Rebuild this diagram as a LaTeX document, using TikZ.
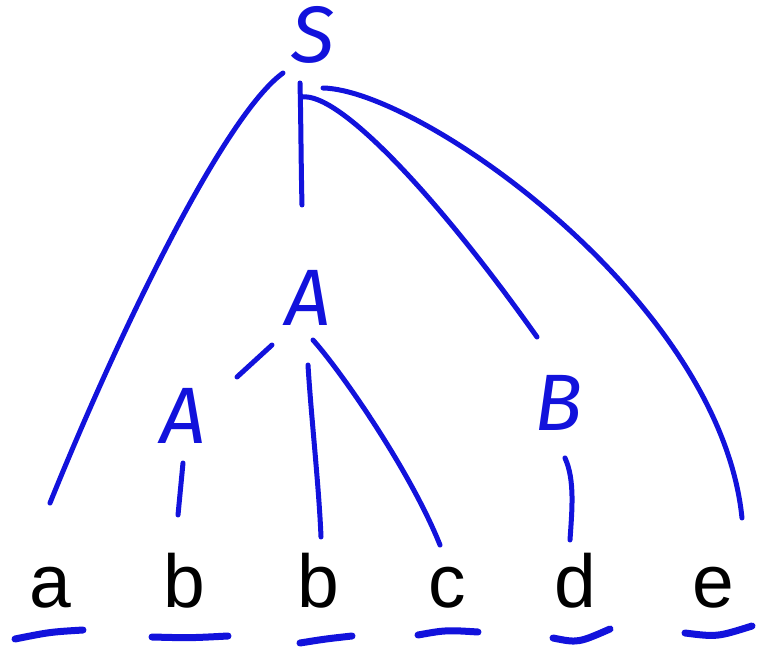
\documentclass[tikz,border=0pt]{standalone}
\usepackage{fontspec}
\setmainfont{Liberation Sans}
\newfontfamily\penfont{Fira Sans}
\usepackage{tikz}
\definecolor{penblue}{RGB}{18,18,220}

\tikzset{
  sym/.style={inner sep=0pt, text=penblue, font=\penfont\itshape\fontsize{80}{80}\selectfont},
  leaf/.style={inner sep=0pt, anchor=base, font=\fontsize{75}{75}\selectfont},
  pen/.style={draw=penblue, line width=5pt, line cap=round},
  underline/.style={draw=penblue, line width=7pt, line cap=round}
}

\begin{document}
\begin{tikzpicture}[x=1pt, y=-1pt]
\useasboundingbox (0,0) rectangle (769,647);

% Symbols of the tree
\node[sym] (S) at (313,35) {S};
\node[sym] (A1) at (308,298) {A};
\node[sym] (A2) at (183,416) {A};
\node[sym] (B) at (559,403) {B};

% Leaves
\node[leaf] (la) at (50,607) {a};
\node[leaf] (lb1) at (184,607) {b};
\node[leaf] (lb2) at (318,607) {b};
\node[leaf] (lc) at (447,607) {c};
\node[leaf] (ld) at (575,607) {d};
\node[leaf] (le) at (713,607) {e};

% Branches from S
\draw[pen] ([shift={(-30,38)}]S.center) .. controls +(-58,42) and +(72,-178) .. ([shift={(0,-104)}]la.base);
\draw[pen] ([shift={(-13,48)}]S.center) .. controls +(1,40) and +(-1,-40) .. ([shift={(-6,-93)}]A1.center);
\draw[pen] ([shift={(-11,62)}]S.center) .. controls +(38,-5) and +(-97,-137) .. ([shift={(-22,-66)}]B.center);
\draw[pen] ([shift={(10,53)}]S.center) .. controls +(97,2) and +(-22,-218) .. ([shift={(29,-89)}]le.base);

% Branches from A
\draw[pen] ([shift={(-36,47)}]A1.center) -- ([shift={(54,-39)}]A2.center);
\draw[pen] ([shift={(0,67)}]A1.center) .. controls +(3,50) and +(-2,-50) .. ([shift={(3,-70)}]lb2.base);
\draw[pen] ([shift={(5,42)}]A1.center) .. controls +(27,30) and +(-30,-75) .. ([shift={(-7,-62)}]lc.base);
\draw[pen] ([shift={(0,47)}]A2.center) -- ([shift={(-6,-92)}]lb1.base);

% Branch from B
\draw[pen] ([shift={(6,55)}]B.center) .. controls +(10,22) and +(2,-30) .. ([shift={(-5,-67)}]ld.base);

% Underlines below the leaves
\foreach \n/\x/\y/\cx/\cy/\u/\v in {la/-35/32/35/-7/33/23, lb1/-32/30/38/1/44/29,
                                    lb2/-18/36/25/-4/34/29, lc/-29/28/28/-5/31/25,
                                    ld/-22/31/25/5/35/22, le/-28/26/32/4/39/19}
  \draw[underline] ([shift={(\x,\y)}]\n.base) .. controls +(\cx,\cy) .. ([shift={(\u,\v)}]\n.base);
\end{tikzpicture}
\end{document}
